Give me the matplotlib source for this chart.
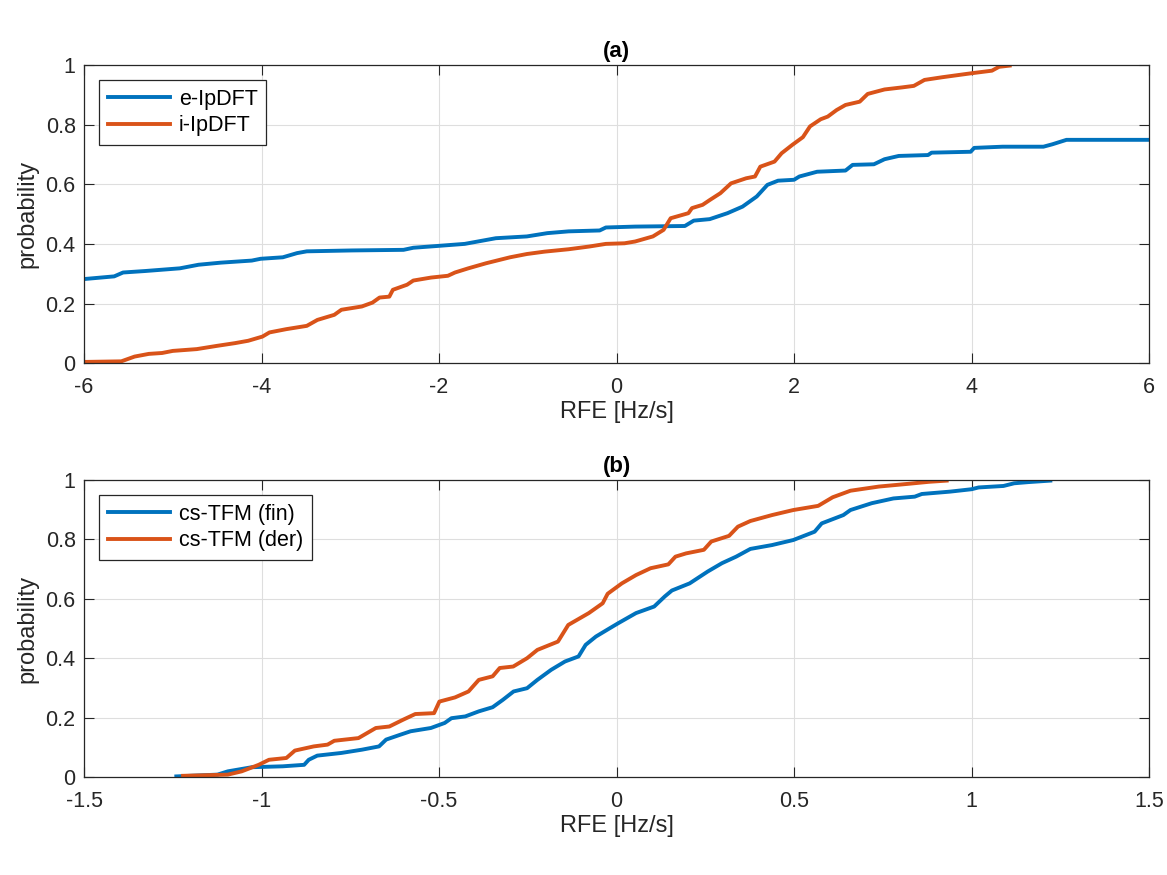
import numpy as np
import matplotlib.pyplot as plt

plt.rcParams['font.family'] = ['Liberation Sans', 'DejaVu Sans']

# (a) e-IpDFT / i-IpDFT の経験累積分布
e_x = [-6.0, -5.66, -5.56, -5.31, -4.92, -4.71, -4.46, -4.11, -4.01, -3.76, -3.60, -3.49,
       -2.98, -2.40, -2.29, -2.02, -1.71, -1.36, -1.01, -0.78, -0.54, -0.19, -0.12,
       0.21, 0.77, 0.87, 1.05, 1.25, 1.42, 1.58, 1.70, 1.82, 2.00, 2.06, 2.26, 2.58,
       2.66, 2.90, 3.02, 3.18, 3.51, 3.55, 3.99, 4.03, 4.35, 4.81, 4.91, 5.07, 6.0]
e_y = [0.282, 0.291, 0.304, 0.309, 0.318, 0.330, 0.337, 0.344, 0.350, 0.355, 0.369, 0.375,
       0.378, 0.380, 0.387, 0.393, 0.400, 0.419, 0.425, 0.436, 0.442, 0.445, 0.455,
       0.458, 0.460, 0.478, 0.483, 0.503, 0.525, 0.559, 0.598, 0.612, 0.615, 0.626, 0.642, 0.646,
       0.665, 0.667, 0.684, 0.695, 0.698, 0.706, 0.709, 0.722, 0.726, 0.726, 0.734, 0.749, 0.749]

i_x = [-6.0, -5.58, -5.43, -5.27, -5.12, -5.0, -4.73, -4.50, -4.30, -4.15, -3.99, -3.91,
       -3.72, -3.49, -3.37, -3.18, -3.10, -2.87, -2.75, -2.67, -2.56, -2.52, -2.36, -2.29,
       -2.09, -1.90, -1.82, -1.67, -1.47, -1.20, -1.01, -0.81, -0.54, -0.31, -0.12,
       0.09, 0.21, 0.41, 0.53, 0.61, 0.81, 0.85, 0.97, 1.05, 1.17, 1.29, 1.46, 1.56,
       1.62, 1.78, 1.86, 1.98, 2.10, 2.18, 2.30, 2.38, 2.48, 2.58, 2.74, 2.83, 3.02,
       3.22, 3.35, 3.47, 3.67, 3.99, 4.23, 4.31, 4.43]
i_y = [0.004, 0.006, 0.022, 0.031, 0.034, 0.041, 0.047, 0.058, 0.067, 0.075, 0.089, 0.103,
       0.114, 0.125, 0.145, 0.162, 0.179, 0.190, 0.203, 0.220, 0.223, 0.246, 0.263, 0.277,
       0.287, 0.293, 0.304, 0.318, 0.335, 0.355, 0.366, 0.374, 0.382, 0.391, 0.400,
       0.402, 0.408, 0.425, 0.447, 0.486, 0.503, 0.520, 0.531, 0.547, 0.570, 0.603, 0.620, 0.626,
       0.659, 0.676, 0.704, 0.732, 0.758, 0.794, 0.818, 0.827, 0.849, 0.866, 0.877, 0.903, 0.918,
       0.925, 0.930, 0.950, 0.959, 0.972, 0.981, 0.994, 0.998]

# (b) cs-TFM (fin) / cs-TFM (der)
fin_x = [-1.24, -1.124, -1.095, -1.056, -1.027, -0.94, -0.88, -0.867, -0.843, -0.775, -0.717,
         -0.669, -0.649, -0.61, -0.58, -0.523, -0.484, -0.465, -0.426, -0.388, -0.349, -0.32,
         -0.29, -0.252, -0.223, -0.184, -0.145, -0.107, -0.087, -0.058, -0.019, 0.005,
         0.055, 0.106, 0.136, 0.156, 0.206, 0.257, 0.297, 0.337, 0.377, 0.438, 0.498, 0.558,
         0.578, 0.639, 0.659, 0.719, 0.78, 0.84, 0.86, 0.94, 1.0, 1.02, 1.09, 1.12, 1.16, 1.222]
fin_y = [0.002, 0.008, 0.019, 0.027, 0.033, 0.036, 0.041, 0.058, 0.072, 0.081, 0.092,
         0.103, 0.126, 0.142, 0.154, 0.165, 0.182, 0.198, 0.204, 0.221, 0.235, 0.260,
         0.288, 0.299, 0.327, 0.361, 0.389, 0.406, 0.445, 0.473, 0.501, 0.518,
         0.552, 0.574, 0.608, 0.628, 0.652, 0.692, 0.720, 0.742, 0.768, 0.781, 0.798, 0.826,
         0.854, 0.882, 0.899, 0.922, 0.938, 0.944, 0.953, 0.961, 0.969, 0.975, 0.980, 0.989, 0.993, 0.998]

der_x = [-1.221, -1.095, -1.056, -1.008, -0.979, -0.93, -0.906, -0.853, -0.814, -0.795, -0.727,
         -0.678, -0.64, -0.601, -0.567, -0.514, -0.499, -0.455, -0.417, -0.388, -0.349, -0.329,
         -0.291, -0.252, -0.223, -0.165, -0.136, -0.078, -0.039, -0.025, 0.015, 0.055, 0.096,
         0.146, 0.166, 0.196, 0.246, 0.267, 0.317, 0.342, 0.377, 0.438, 0.498, 0.568, 0.609,
         0.659, 0.739, 0.82, 0.88, 0.93]
der_y = [0.004, 0.008, 0.019, 0.041, 0.058, 0.064, 0.089, 0.103, 0.109, 0.122, 0.131,
         0.165, 0.170, 0.193, 0.212, 0.215, 0.254, 0.268, 0.288, 0.327, 0.339, 0.367,
         0.372, 0.400, 0.428, 0.456, 0.512, 0.552, 0.585, 0.617, 0.652, 0.680, 0.703,
         0.716, 0.742, 0.753, 0.765, 0.793, 0.812, 0.843, 0.862, 0.882, 0.899, 0.913, 0.942,
         0.964, 0.978, 0.987, 0.994, 0.998]

blue = '#0072BD'
orange = '#D95319'
yticks = [0, 0.2, 0.4, 0.6, 0.8, 1]
ylabels = ['0', '0.2', '0.4', '0.6', '0.8', '1']

fig = plt.figure(figsize=(11.67, 8.75), dpi=100)
ax1 = fig.add_axes([0.072, 0.585, 0.9126, 0.3407])
ax2 = fig.add_axes([0.072, 0.112, 0.9126, 0.3394])


def style(ax, xticks, xlabels, title):
    ax.set_yticks(yticks)
    ax.set_yticklabels(ylabels)
    ax.set_xticks(xticks)
    ax.set_xticklabels(xlabels)
    ax.set_ylim(0, 1)
    ax.grid(True, color='#dedede', linewidth=0.8)
    ax.set_axisbelow(True)
    ax.tick_params(direction='in', top=True, right=True, length=7, labelsize=15.5,
                   colors='#262626')
    ax.tick_params(axis='x', pad=10)
    ax.tick_params(axis='y', pad=6)
    for s in ax.spines.values():
        s.set_color('#262626')
        s.set_linewidth(0.9)
    ax.set_xlabel('RFE [Hz/s]', fontsize=17, color='#262626', labelpad=2)
    ax.set_ylabel('probability', fontsize=17, color='#262626', labelpad=5)
    ax.set_title(title, fontsize=16, fontweight='bold', pad=6)
    leg = ax.legend(loc='upper left', fontsize=15.5, fancybox=False, framealpha=1,
                    edgecolor='#262626', handlelength=2.9, handletextpad=0.4,
                    borderaxespad=0.7, borderpad=0.4, labelspacing=0.25)
    leg.get_frame().set_linewidth(0.9)


ax1.plot(e_x, e_y, color=blue, linewidth=2.8, label='e-IpDFT')
ax1.plot(i_x, i_y, color=orange, linewidth=2.8, label='i-IpDFT')
ax1.set_xlim(-6, 6)
style(ax1, [-6, -4, -2, 0, 2, 4, 6], ['-6', '-4', '-2', '0', '2', '4', '6'], '(a)')

ax2.plot(fin_x, fin_y, color=blue, linewidth=2.8, label='cs-TFM (fin)')
ax2.plot(der_x, der_y, color=orange, linewidth=2.8, label='cs-TFM (der)')
ax2.set_xlim(-1.5, 1.5)
style(ax2, [-1.5, -1, -0.5, 0, 0.5, 1, 1.5], ['-1.5', '-1', '-0.5', '0', '0.5', '1', '1.5'], '(b)')

fig.savefig('out.png', dpi=100)
